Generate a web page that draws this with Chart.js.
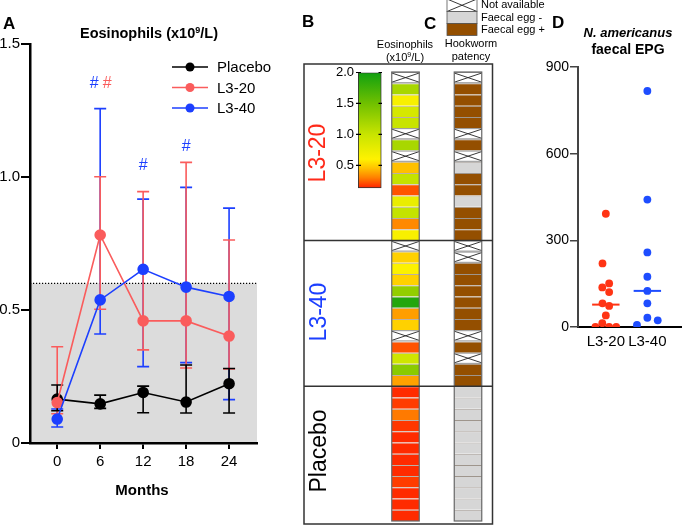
<!DOCTYPE html>
<html>
<head>
<meta charset="utf-8">
<script src="https://cdn.jsdelivr.net/npm/chart.js@4.4.1/dist/chart.umd.min.js"></script>
<style>
  body { margin: 0; background: #fff; width: 685px; height: 531px; position: relative; overflow: hidden; font-family: 'Liberation Sans', Arial, sans-serif; }
  canvas { position: absolute; }
  .t { position: absolute; white-space: nowrap; color: #000; line-height: 1; }
  .c { transform: translate(-50%, -50%); }
  .letter { font-weight: bold; font-size: 17px; }
  .rot { transform: translate(-50%, -50%) rotate(-90deg); font-size: 23px; }
  .hdr { font-size: 11px; }
</style>
</head>
<body>
<canvas id="chartA" width="295" height="531" style="left:0;top:0"></canvas>
<canvas id="chartHeat" width="265" height="531" style="left:300px;top:0"></canvas>
<canvas id="chartBar" width="62" height="140" style="left:320px;top:60px"></canvas>
<canvas id="chartD" width="155" height="360" style="left:530px;top:0"></canvas>

<div class="t letter" style="left:3px;top:15px">A</div>
<div class="t letter" style="left:302px;top:13px">B</div>
<div class="t letter" style="left:424px;top:15px">C</div>
<div class="t letter" style="left:552px;top:14px">D</div>

<div class="t c" style="left:149px;top:33px;font-weight:bold;font-size:14.5px">Eosinophils (x10<sup style="font-size:9px;vertical-align:5px;line-height:0">9</sup>/L)</div>
<div class="t c" style="left:142px;top:489px;font-weight:bold;font-size:15px">Months</div>

<div class="t c hdr" style="left:405px;top:44px">Eosinophils</div>
<div class="t c hdr" style="left:405px;top:57px">(x10<sup style="font-size:7px;vertical-align:4px;line-height:0">9</sup>/L)</div>
<div class="t c hdr" style="left:471px;top:43px">Hookworm</div>
<div class="t c hdr" style="left:471px;top:56px">patency</div>

<div class="t rot" style="left:317px;top:153px;color:#ff2a1a">L3-20</div>
<div class="t rot" style="left:318px;top:312px;color:#1c3fff">L3-40</div>
<div class="t rot" style="left:318px;top:451px;color:#000">Placebo</div>

<div class="t c" style="left:628px;top:32px;font-weight:bold;font-style:italic;font-size:13px">N. americanus</div>
<div class="t c" style="left:628px;top:49px;font-weight:bold;font-size:14px">faecal EPG</div>

<script>
Chart.defaults.font.family = "'Liberation Sans', Arial, sans-serif";
Chart.defaults.color = '#000';

// ---- panel A: eosinophils over time ----
const months = [0, 6, 12, 18, 24];
const placeboMean = [0.165, 0.147, 0.19, 0.154, 0.223];
const placeboLow = [0.121, 0.13, 0.114, 0.113, 0.113];
const placeboHigh = [0.218, 0.18, 0.214, 0.293, 0.28];
const l320Mean = [0.152, 0.782, 0.459, 0.459, 0.402];
const l320Low = [0.11, 0.503, 0.35, 0.282, 0.278];
const l320High = [0.362, 1.001, 0.945, 1.055, 0.763];
const l340Mean = [0.09, 0.538, 0.653, 0.586, 0.551];
const l340Low = [0.06, 0.41, 0.287, 0.302, 0.163];
const l340High = [0.128, 1.257, 0.917, 0.961, 0.883];
const eosThreshold = 0.6;
const yTicksA = [0, 0.5, 1.0, 1.5];

// # marks (significance)
const hashMarks = [
  { month: 6, y: 1.353, series: 'L3-40', dx: -6 },
  { month: 6, y: 1.353, series: 'L3-20', dx: 7 },
  { month: 12, y: 1.043, series: 'L3-40', dx: 0 },
  { month: 18, y: 1.113, series: 'L3-40', dx: 0 }
];

const colPlacebo = '#000000';
const colL320 = '#fa5c5c';
const colL340 = '#1c3fff';

// ---- panels B/C: per-participant heatmap ----
const groupNames = ['L3-20', 'L3-40', 'Placebo'];
const eosL320 = [null, 1.18, 0.65, 0.9, 1.0, null, 1.18, null, 0.45, 1.02, 0.22, 0.75, 1.02, 0.32, 0.65];
const eosL340 = [null, 0.5, 0.62, 0.5, 1.3, 1.9, 0.37, 0.5, null, 0.22, 0.95, 1.35, 0.38];
const eosPlacebo = [0.15, 0.18, 0.29, 0.17, 0.15, 0.15, 0.15, 0.15, 0.18, 0.15, 0.15, 0.15];
const patL320 = ['na', 'pos', 'pos', 'pos', 'pos', 'na', 'pos', 'na', 'neg', 'pos', 'pos', 'neg', 'pos', 'pos', 'pos'];
const patL340 = ['na', 'na', 'pos', 'pos', 'pos', 'pos', 'pos', 'pos', 'na', 'pos', 'na', 'pos', 'pos'];
const patPlacebo = ['neg', 'neg', 'neg', 'neg', 'neg', 'neg', 'neg', 'neg', 'neg', 'neg', 'neg', 'neg'];
const heatColumns = ['Eosinophils', 'Hookworm patency'];
const patLabels = { na: 'Not available', neg: 'Faecal egg -', pos: 'Faecal egg +' };
const colorbarMin = 0.13;
const colorbarMax = 2.0;
const colorbarTicks = [0.5, 1.0, 1.5, 2.0];

// ---- panel D: faecal egg counts ----
const epgGroups = ['L3-20', 'L3-40'];
const epgL320 = [392, 220, 137, 151, 121, 82, 73, 40, 13, 0, 0, 0];
const jitterL320 = [0, -0.08, -0.085, 0.08, 0.08, -0.08, 0.08, 0, -0.085, -0.25, 0.08, 0.25];
const epgL340 = [817, 441, 258, 174, 125, 82, 32, 7, 23];
const jitterL340 = [0, 0, 0, 0, 0, 0, 0, -0.25, 0.25];
const yTicksD = [0, 300, 600, 900];

const eosColorStops = [
  [0.13, [255, 32, 0]],
  [0.3, [255, 128, 0]],
  [0.45, [255, 192, 0]],
  [0.6, [255, 242, 0]],
  [1.0, [200, 228, 0]],
  [1.5, [112, 192, 0]],
  [2.0, [16, 160, 16]]
];
const patColors = { na: '#ffffff', neg: '#d6d6d6', pos: '#944f00' };

function eosColor(v) {
  const s = eosColorStops;
  if (v <= s[0][0]) return `rgb(${s[0][1].join(',')})`;
  for (let i = 1; i < s.length; i++) {
    if (v <= s[i][0]) {
      const f = (v - s[i - 1][0]) / (s[i][0] - s[i - 1][0]);
      const c = s[i - 1][1].map((a, k) => Math.round(a + (s[i][1][k] - a) * f));
      return `rgb(${c.join(',')})`;
    }
  }
  return `rgb(${s[s.length - 1][1].join(',')})`;
}

function median(arr) {
  const a = [...arr].sort((p, q) => p - q);
  const m = Math.floor(a.length / 2);
  return a.length % 2 ? a[m] : (a[m - 1] + a[m]) / 2;
}

// ================= Panel A =================
const shadePlugin = {
  id: 'shade',
  beforeDraw(chart) {
    const { ctx, chartArea: a, scales: { y } } = chart;
    const yT = y.getPixelForValue(eosThreshold);
    const y0 = y.getPixelForValue(0);
    ctx.save();
    ctx.fillStyle = '#dcdcdc';
    ctx.fillRect(a.left, yT, a.right - a.left, y0 - yT);
    ctx.setLineDash([1.2, 1.8]);
    ctx.strokeStyle = '#000';
    ctx.lineWidth = 1.2;
    ctx.beginPath();
    ctx.moveTo(a.left, yT);
    ctx.lineTo(a.right, yT);
    ctx.stroke();
    ctx.restore();
  },
  beforeDatasetsDraw(chart) {
    const { ctx, scales: { x, y } } = chart;
    ctx.save();
    [...chart.data.datasets].reverse().forEach(ds => {
      ctx.strokeStyle = ds.borderColor;
      ctx.lineWidth = 1.6;
      ds.errLow.forEach((lo, i) => {
        const px = x.getPixelForValue(months[i]);
        const pl = y.getPixelForValue(lo);
        const ph = y.getPixelForValue(ds.errHigh[i]);
        ctx.beginPath();
        ctx.moveTo(px, pl); ctx.lineTo(px, ph);
        ctx.moveTo(px - 6, pl); ctx.lineTo(px + 6, pl);
        ctx.moveTo(px - 6, ph); ctx.lineTo(px + 6, ph);
        ctx.stroke();
      });
    });
    ctx.restore();
  },
  afterDatasetsDraw(chart) {
    const { ctx, scales: { x, y } } = chart;
    ctx.save();
    ctx.font = '16px "Liberation Sans", Arial, sans-serif';
    ctx.textAlign = 'center';
    ctx.textBaseline = 'middle';
    hashMarks.forEach(h => {
      const ds = chart.data.datasets.find(d => d.label === h.series);
      ctx.fillStyle = ds.borderColor;
      ctx.fillText('#', x.getPixelForValue(h.month) + h.dx, y.getPixelForValue(h.y));
    });
    // legend
    ctx.font = '15px "Liberation Sans", Arial, sans-serif';
    ctx.textAlign = 'left';
    chart.data.datasets.forEach((ds, i) => {
      const ly = 67 + i * 20.5;
      ctx.strokeStyle = ds.borderColor;
      ctx.fillStyle = ds.borderColor;
      ctx.lineWidth = 1.6;
      ctx.beginPath();
      ctx.moveTo(172, ly); ctx.lineTo(208, ly);
      ctx.stroke();
      ctx.beginPath();
      ctx.arc(190, ly, 4.5, 0, Math.PI * 2);
      ctx.fill();
      ctx.fillStyle = '#000';
      ctx.fillText(ds.label, 217, ly + 1);
    });
    ctx.restore();
  }
};

function lineSeries(label, mean, lo, hi, color, order) {
  return {
    label: label,
    data: months.map((m, i) => ({ x: m, y: mean[i] })),
    errLow: lo,
    errHigh: hi,
    borderColor: color,
    backgroundColor: color,
    borderWidth: 1.6,
    pointRadius: 5,
    pointHoverRadius: 5,
    showLine: true,
    order: order
  };
}

new Chart(document.getElementById('chartA'), {
  type: 'scatter',
  data: {
    datasets: [
      lineSeries('Placebo', placeboMean, placeboLow, placeboHigh, colPlacebo, 3),
      lineSeries('L3-20', l320Mean, l320Low, l320High, colL320, 2),
      lineSeries('L3-40', l340Mean, l340Low, l340High, colL340, 1)
    ]
  },
  options: {
    responsive: false,
    animation: false,
    layout: { padding: { top: 44, right: 38, bottom: 48, left: 0 } },
    plugins: { legend: { display: false }, tooltip: { enabled: false } },
    scales: {
      x: {
        type: 'linear',
        min: -3.8,
        max: 27.9,
        afterBuildTicks: s => { s.ticks = months.map(v => ({ value: v })); },
        afterFit: s => { s.height = 40; },
        ticks: { font: { size: 15 }, padding: 4, callback: v => String(v) },
        grid: { drawOnChartArea: false, drawTicks: true, tickLength: 6, color: '#000', lineWidth: 2 },
        border: { color: '#000', width: 2.5 }
      },
      y: {
        min: 0,
        max: 1.5,
        afterBuildTicks: s => { s.ticks = yTicksA.map(v => ({ value: v })); },
        afterFit: s => { s.width = 30; },
        ticks: { font: { size: 15 }, padding: 1, callback: v => (v === 0 ? '0' : v.toFixed(1)) },
        grid: { drawOnChartArea: false, drawTicks: true, tickLength: 9, color: '#000', lineWidth: 2 },
        border: { color: '#000', width: 2.5 }
      }
    }
  },
  plugins: [shadePlugin]
});

// ================= Panels B / C heatmap =================
const eosRows = [].concat(eosL320, eosL340, eosPlacebo);
const patRows = [].concat(patL320, patL340, patPlacebo);
const groupEnds = [eosL320.length, eosL320.length + eosL340.length];

const heatPlugin = {
  id: 'heatDecor',
  afterDatasetsDraw(chart) {
    const { ctx, scales: { y } } = chart;
    ctx.save();
    // crosses for missing cells
    chart.data.datasets.forEach((ds, i) => {
      const meta = chart.getDatasetMeta(i);
      [eosRows[i] == null, patRows[i] === 'na'].forEach((isNa, col) => {
        if (!isNa) return;
        const el = meta.data[col];
        const l = el.x - el.width / 2, r = el.x + el.width / 2;
        const t = Math.min(el.y, el.base), b = Math.max(el.y, el.base);
        ctx.strokeStyle = '#222';
        ctx.lineWidth = 0.9;
        ctx.beginPath();
        ctx.moveTo(l, t + 1); ctx.lineTo(r, b - 1);
        ctx.moveTo(r, t + 1); ctx.lineTo(l, b - 1);
        ctx.stroke();
        ctx.strokeStyle = '#888';
        ctx.beginPath();
        ctx.moveTo(l, t + 0.5); ctx.lineTo(r, t + 0.5);
        ctx.moveTo(l, b - 0.5); ctx.lineTo(r, b - 0.5);
        ctx.stroke();
      });
    });
    // column outlines
    const first = chart.getDatasetMeta(0), last = chart.getDatasetMeta(chart.data.datasets.length - 1);
    [0, 1].forEach(col => {
      const a = first.data[col], z = last.data[col];
      const l = a.x - a.width / 2, w = a.width;
      const t = Math.min(a.y, a.base), b = Math.max(z.y, z.base);
      ctx.strokeStyle = '#666';
      ctx.lineWidth = 1.2;
      ctx.strokeRect(l, t, w, b - t);
    });
    // frame and group dividers
    ctx.strokeStyle = '#333';
    ctx.lineWidth = 1.5;
    ctx.strokeRect(4, 64, 188.5, 460);
    ctx.beginPath();
    groupEnds.forEach(g => {
      const py = y.getPixelForValue(g);
      ctx.moveTo(4, py); ctx.lineTo(192.5, py);
    });
    ctx.stroke();
    // patency legend
    const sw = [['na', -1, 11.5], ['neg', 11.5, 23.5], ['pos', 23.5, 35.5]];
    ctx.font = '11px "Liberation Sans", Arial, sans-serif';
    ctx.textAlign = 'left';
    ctx.textBaseline = 'middle';
    sw.forEach(([k, t, b]) => {
      ctx.fillStyle = patColors[k];
      ctx.fillRect(147, t, 30, b - t);
      if (k === 'na') {
        ctx.strokeStyle = '#222';
        ctx.lineWidth = 0.9;
        ctx.beginPath();
        ctx.moveTo(147, t); ctx.lineTo(177, b);
        ctx.moveTo(177, t); ctx.lineTo(147, b);
        ctx.stroke();
      }
      ctx.strokeStyle = '#555';
      ctx.lineWidth = 0.8;
      ctx.strokeRect(147, t, 30, b - t);
      ctx.fillStyle = '#000';
      ctx.fillText(patLabels[k], 181, (t + b) / 2);
    });
    ctx.restore();
  }
};

new Chart(document.getElementById('chartHeat'), {
  type: 'bar',
  data: {
    labels: heatColumns,
    datasets: eosRows.map((v, i) => ({
      data: [1, 1],
      backgroundColor: [v == null ? '#ffffff' : eosColor(v), patColors[patRows[i]]],
      borderColor: [v == null ? '#ffffff' : 'rgba(60,30,0,0.35)', patRows[i] === 'na' ? '#ffffff' : 'rgba(40,20,0,0.45)'],
      borderWidth: { top: 1, bottom: 0, left: 0, right: 0 },
      borderSkipped: false,
      barPercentage: 0.44,
      categoryPercentage: 1
    }))
  },
  options: {
    responsive: false,
    animation: false,
    layout: { padding: { top: 72, right: 65.75, bottom: 10, left: 74.25 } },
    plugins: { legend: { display: false }, tooltip: { enabled: false } },
    scales: {
      x: { stacked: true, display: false },
      y: { stacked: true, display: false, min: 0, max: eosRows.length, reverse: true }
    }
  },
  plugins: [heatPlugin]
});

// colour bar
const colorbarPlugin = {
  id: 'cbTicks',
  afterDatasetsDraw(chart) {
    const { ctx, chartArea: a, scales: { y } } = chart;
    ctx.save();
    ctx.strokeStyle = '#000';
    ctx.lineWidth = 1.2;
    ctx.beginPath();
    y.ticks.forEach(t => {
      const py = y.getPixelForValue(t.value);
      ctx.moveTo(a.left - 2, py); ctx.lineTo(a.left + 3, py);
      ctx.moveTo(a.right - 3, py); ctx.lineTo(a.right + 2, py);
    });
    ctx.stroke();
    ctx.restore();
  }
};

new Chart(document.getElementById('chartBar'), {
  type: 'bar',
  data: {
    labels: ['scale'],
    datasets: [{
      data: [[colorbarMin, colorbarMax]],
      backgroundColor: ctx => {
        const { chart } = ctx;
        if (!chart.chartArea) return '#ccc';
        const y = chart.scales.y;
        const y0 = y.getPixelForValue(colorbarMin), y1 = y.getPixelForValue(colorbarMax);
        const g = chart.ctx.createLinearGradient(0, y0, 0, y1);
        eosColorStops.forEach(([v, c]) => {
          g.addColorStop((v - colorbarMin) / (colorbarMax - colorbarMin), `rgb(${c.join(',')})`);
        });
        return g;
      },
      borderColor: '#333',
      borderWidth: 1.2,
      borderSkipped: false,
      barPercentage: 1,
      categoryPercentage: 1
    }]
  },
  options: {
    responsive: false,
    animation: false,
    layout: { padding: { top: 12.5, right: 0.5, bottom: 11, left: 0 } },
    plugins: { legend: { display: false }, tooltip: { enabled: false } },
    scales: {
      x: { display: false },
      y: {
        min: colorbarMin,
        max: colorbarMax,
        afterBuildTicks: s => { s.ticks = colorbarTicks.map(v => ({ value: v })); },
        afterFit: s => { s.width = 38; },
        ticks: { font: { size: 13 }, padding: 4, callback: v => v.toFixed(1) },
        grid: { display: false, drawTicks: false },
        border: { display: false }
      }
    }
  },
  plugins: [colorbarPlugin]
});

// ================= Panel D =================
const medHalf = 0.33;
function epgPoints(vals, jit, pos) {
  return vals.map((v, i) => ({ x: pos + jit[i], y: v }));
}
function medLine(vals, pos) {
  const m = median(vals);
  return [{ x: pos - medHalf, y: m }, { x: pos + medHalf, y: m }];
}
const colDRed = '#ff3414';
const colDBlue = '#1e4dff';

new Chart(document.getElementById('chartD'), {
  type: 'scatter',
  data: {
    datasets: [
      { data: epgPoints(epgL320, jitterL320, 1), backgroundColor: colDRed, borderWidth: 0, pointRadius: 3.9 },
      { data: epgPoints(epgL340, jitterL340, 2), backgroundColor: colDBlue, borderWidth: 0, pointRadius: 3.9 },
      { data: medLine(epgL320, 1), showLine: true, borderColor: colDRed, borderWidth: 2, pointRadius: 0 },
      { data: medLine(epgL340, 2), showLine: true, borderColor: colDBlue, borderWidth: 2, pointRadius: 0 }
    ]
  },
  options: {
    responsive: false,
    animation: false,
    layout: { padding: { top: 67, right: 0, bottom: 8, left: 0 } },
    plugins: { legend: { display: false }, tooltip: { enabled: false } },
    scales: {
      x: {
        type: 'linear',
        min: 0.33,
        max: 2.81,
        afterBuildTicks: s => { s.ticks = epgGroups.map((g, i) => ({ value: i + 1 })); },
        afterFit: s => { s.height = 25; },
        ticks: { font: { size: 15 }, padding: 6, callback: v => epgGroups[v - 1] },
        grid: { display: false, drawTicks: false },
        border: { color: '#000', width: 2 }
      },
      y: {
        min: 0,
        max: 900,
        afterBuildTicks: s => { s.ticks = yTicksD.map(v => ({ value: v })); },
        afterFit: s => { s.width = 48; },
        ticks: { font: { size: 14 }, padding: 1 },
        grid: { drawOnChartArea: false, drawTicks: true, tickLength: 8, color: '#444', lineWidth: 1.5 },
        border: { color: '#444', width: 2 }
      }
    }
  }
});
</script>
</body>
</html>
